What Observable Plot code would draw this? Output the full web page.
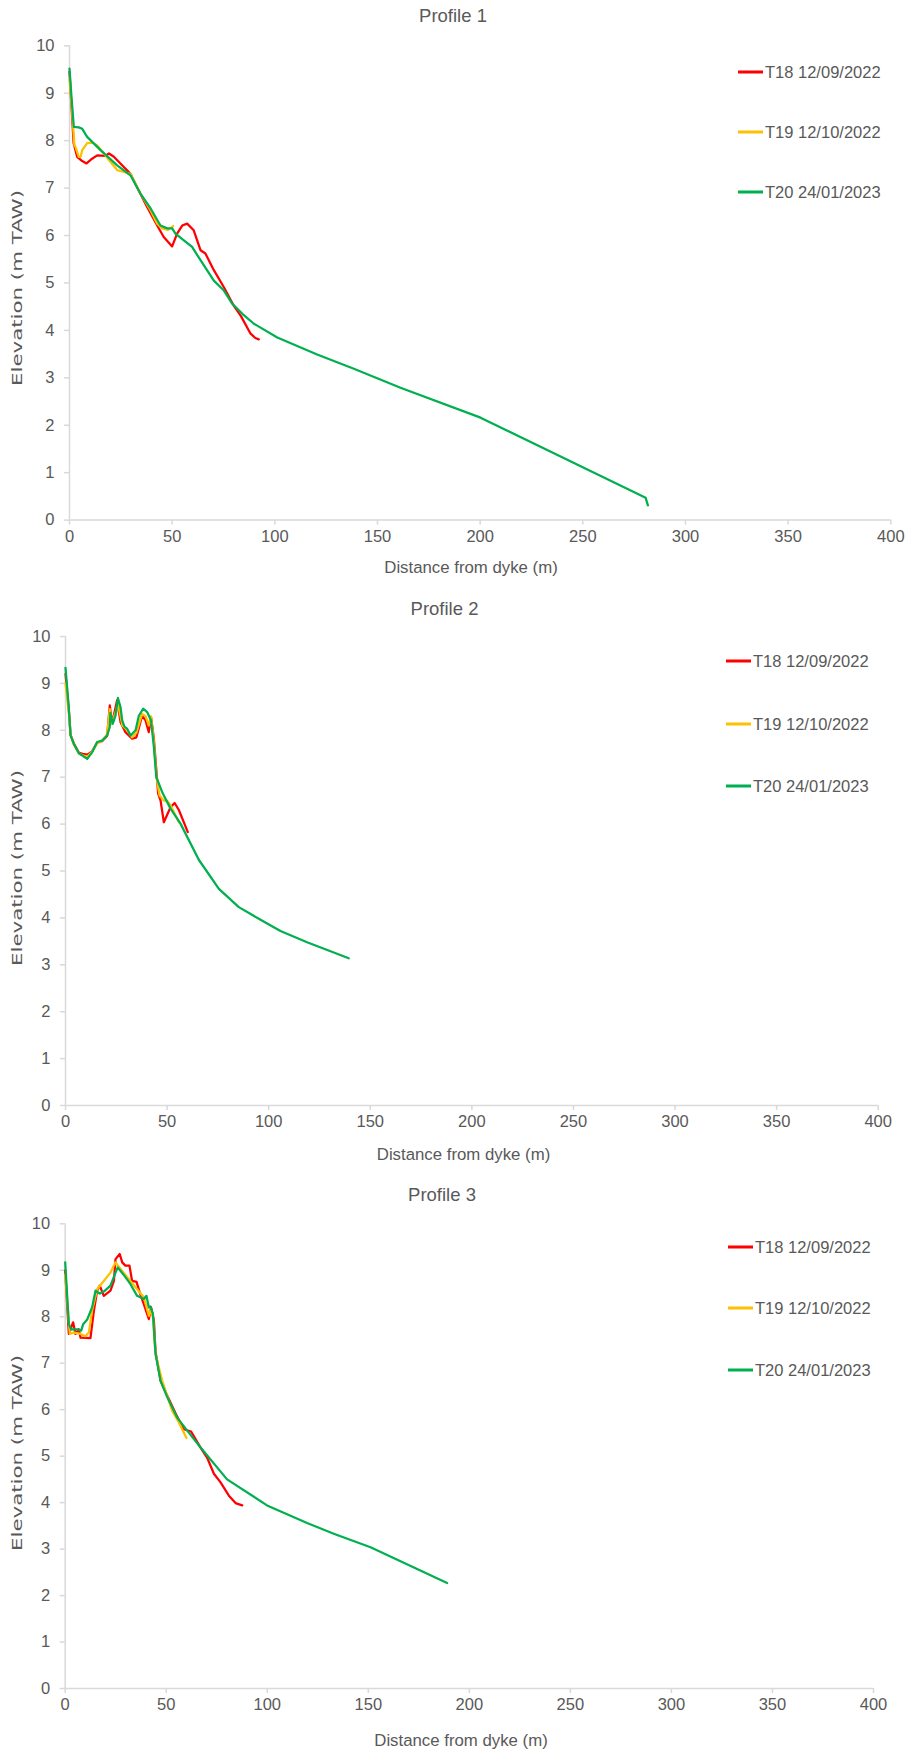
<!DOCTYPE html>
<html>
<head>
<meta charset="utf-8">
<script src="https://cdn.jsdelivr.net/npm/d3@7"></script>
<script src="https://cdn.jsdelivr.net/npm/@observablehq/plot@0.6"></script>
<style>
  body { margin: 0; background: #fff; }
  .panel { position: relative; width: 909px; overflow: hidden; }
  .panel svg { position: absolute; left: 0; top: 0; }
  .lbl { position: absolute; white-space: nowrap; color: #595959;
         font-family: "Liberation Sans", Arial, sans-serif; line-height: 1; }
  .legend { position: absolute; font-family: "Liberation Sans", Arial, sans-serif;
            font-size: 16.5px; color: #595959; }
  .legend .row { position: absolute; left: 0; display: flex; align-items: center;
                 transform: translateY(-50%); white-space: nowrap; }
  .legend .swatch { width: 25px; height: 2.4px; margin-right: 2px; }
  g[aria-label="x-axis tick"], g[aria-label="y-axis tick"] { stroke: #d9d9d9; stroke-width: 1.5px; }
</style>
</head>
<body>
<div id="chart"></div>
<script>
// Survey names, dates and colours
const surveys = ["T18 12/09/2022", "T19 12/10/2022", "T20 24/01/2023"];
const colors  = ["#FF0000", "#FFC000", "#00B050"];

// Axis ticks
const xTicks = [0, 50, 100, 150, 200, 250, 300, 350, 400];
const yTicks = [0, 1, 2, 3, 4, 5, 6, 7, 8, 9, 10];

// Profile 1: [distance from dyke (m), elevation (m TAW)]
const p1T18 = [[0,9.45],[1,8.7],[2,7.95],[3.7,7.66],[6.2,7.57],[8.3,7.52],[11,7.62],[13.5,7.69],[17.5,7.68],
  [19.2,7.73],[21.6,7.66],[24.8,7.52],[29.7,7.3],[32.9,7.02],[37.8,6.6],[42.7,6.21],[45.9,5.97],[50,5.77],
  [52.4,6.04],[54.9,6.21],[57.3,6.25],[60.5,6.11],[63.8,5.69],[66.2,5.62],[70.3,5.27],[75.2,4.91],[80,4.52],
  [83.5,4.3],[88.2,3.93],[90.5,3.84],[92.2,3.81]];
const p1T19 = [[0,9.3],[1.3,8.6],[2.4,7.9],[2.9,7.87],[4.5,7.66],[5.4,7.66],[6.2,7.8],[8.6,7.95],[11,7.96],
  [13.5,7.9],[16.8,7.73],[20,7.55],[23.2,7.38],[26.5,7.34],[29.7,7.3],[34.6,6.88],[39.5,6.53],[42.7,6.25],
  [45.1,6.15],[48,6.12],[50.5,6.2]];
const p1T20 = [[0,9.52],[1,8.9],[2.1,8.29],[4.5,8.28],[6.2,8.25],[8.6,8.08],[15.1,7.8],[23.2,7.48],[29.7,7.27],
  [34.6,6.88],[39.5,6.57],[44.3,6.21],[47.6,6.15],[50,6.15],[51.6,6.04],[55.7,5.9],[59.7,5.76],[63.8,5.48],
  [70.3,5.05],[75.2,4.84],[79.3,4.56],[84.9,4.32],[89.8,4.14],[91.4,4.1],[101.2,3.85],[120.6,3.49],
  [138.5,3.19],[161.2,2.79],[200.2,2.16],[280.6,0.47],[281.7,0.31]];

// Profile 2
const p2T18 = [[0,9.2],[1.6,8.45],[2.5,7.9],[4.1,7.72],[6.6,7.52],[8.5,7.5],[10.7,7.48],[13.1,7.55],[15.6,7.74],
  [18,7.77],[20.5,7.88],[21.8,8.53],[22.9,8.14],[25.4,8.64],[27.1,8.17],[29.5,7.96],[32.8,7.82],[34.9,7.85],
  [37.7,8.31],[39.4,8.21],[41,7.96],[42.1,8.28],[43.5,7.82],[44.8,7.1],[45.6,6.65],[46.8,6.5],[48.4,6.04],
  [51.7,6.36],[53.7,6.45],[55.8,6.3],[60.2,5.83]];
const p2T19 = [[0,9.0],[1.6,8.4],[2.5,7.9],[4.1,7.7],[6.6,7.5],[10.7,7.43],[13.1,7.55],[15.6,7.72],[18,7.77],
  [20.5,7.92],[21.8,8.45],[22.9,8.15],[25.8,8.55],[27.1,8.3],[28,8.1],[30.4,8.0],[32.8,7.85],[34.9,7.95],
  [37.7,8.35],[39.4,8.3],[41,8.1],[42.1,8.3],[43.5,7.75],[44.8,7.0],[46.3,6.61],[48.4,6.5],[50,6.5],
  [51.7,6.4],[55.8,6.04]];
const p2T20 = [[0,9.33],[1.6,8.49],[2.5,7.89],[4.1,7.71],[6.6,7.51],[10.7,7.39],[13.1,7.53],[15.6,7.75],[18,7.78],
  [20.5,7.89],[21.8,8.07],[22.1,8.37],[23.3,8.14],[24.6,8.31],[25.8,8.69],[27.1,8.49],[27.9,8.21],[29,8.08],
  [30.4,8.03],[32,7.89],[34.5,8.0],[36.1,8.31],[38.2,8.46],[40.2,8.39],[42.1,8.21],[43.5,7.64],[44.7,7.0],
  [47.6,6.68],[51.7,6.33],[56.6,6.01],[65.6,5.24],[75.5,4.62],[85.3,4.23],[96,3.96],[105.8,3.72],
  [118.9,3.48],[139.4,3.14]];

// Profile 3
const p3T18 = [[0,9.0],[1.8,7.63],[3.9,7.88],[5.1,7.63],[6.7,7.73],[7.6,7.55],[12.5,7.54],[14.2,8.13],[15.8,8.56],
  [17.1,8.67],[19.1,8.45],[22.4,8.56],[24.1,8.77],[24.9,9.24],[27,9.35],[28.2,9.17],[29.8,9.1],[31.8,9.1],
  [33.1,8.77],[35.3,8.75],[36.9,8.52],[38.9,8.27],[41.4,7.95],[42.5,8.2],[43.9,7.92],[44.7,7.25],[47.2,6.62],
  [50.5,6.3],[55.4,5.85],[58.7,5.58],[62.3,5.53],[66.9,5.19],[70.2,4.97],[73.6,4.62],[76.8,4.44],[81,4.15],
  [84.3,3.99],[87.6,3.94]];
const p3T19 = [[0,8.9],[2.3,7.63],[4.3,7.66],[7.6,7.63],[10,7.58],[11.7,7.66],[13.3,8.13],[15.8,8.59],[19.1,8.77],
  [22.4,8.95],[24.9,9.17],[27.4,9.03],[30.7,8.85],[35.6,8.59],[38.9,8.42],[41.4,8.02],[42.2,8.13],[43.4,8.0],
  [44.7,7.2],[48,6.62],[52.9,5.98],[56.2,5.73],[60,5.39]];
const p3T20 = [[0,9.17],[1.8,7.84],[2.9,7.73],[5.9,7.73],[7.9,7.7],[8.9,7.84],[10.9,7.94],[13.3,8.2],[15,8.56],
  [17.1,8.5],[19.4,8.55],[22.4,8.67],[24.9,8.95],[26,9.06],[29,8.9],[32.3,8.7],[35.6,8.45],[38.9,8.38],
  [40.2,8.45],[41.4,8.2],[42.2,8.22],[43.4,8.06],[44.7,7.2],[47.2,6.62],[50.5,6.27],[55.4,5.83],[60.4,5.55],
  [66.9,5.19],[80.1,4.5],[99.9,3.94],[119.7,3.56],[132.9,3.33],[151.1,3.04],[189,2.27]];

// Panel geometry (pixels)
const panels = [
  { title: "Profile 1", series: [p1T18, p1T19, p1T20], h: 591, mt: 45.3, mb: 71.4, ml: 69, mr: 18.7,
    titleX: 453, titleY: 16, xtX: 471, xtY: 568, ytX: 17, ytY: 288, legX: 738, legY: [72, 132, 192] },
  { title: "Profile 2", series: [p2T18, p2T19, p2T20], h: 587, mt: 45, mb: 73, ml: 65, mr: 31.3,
    titleX: 444.5, titleY: 18, xtX: 463.5, xtY: 564, ytX: 17, ytY: 277, legX: 726, legY: [70, 133, 195] },
  { title: "Profile 3", series: [p3T18, p3T19, p3T20], h: 573, mt: 45.3, mb: 63, ml: 64.7, mr: 36,
    titleX: 442, titleY: 17, xtX: 461, xtY: 563, ytX: 17, ytY: 275, legX: 728, legY: [69, 130, 192] }
];

const root = document.getElementById("chart");

for (const p of panels) {
  const div = document.createElement("div");
  div.className = "panel";
  div.style.height = p.h + "px";

  const svg = Plot.plot({
    width: 909,
    height: p.h,
    marginTop: p.mt,
    marginBottom: p.mb,
    marginLeft: p.ml,
    marginRight: p.mr,
    style: { fontFamily: '"Liberation Sans", Arial, sans-serif', fontSize: "16.5px", color: "#595959", background: "transparent", overflow: "visible" },
    x: { domain: [0, 400] },
    y: { domain: [0, 10] },
    marks: [
      Plot.ruleY([0], { stroke: "#D9D9D9", strokeWidth: 1.5 }),
      Plot.ruleX([0], { stroke: "#D9D9D9", strokeWidth: 1.5 }),
      Plot.axisX({ ticks: xTicks, tickSize: 5, tickPadding: 5, label: null }),
      Plot.axisY({ ticks: yTicks, tickSize: 5, tickPadding: 10, label: null }),
      ...p.series.map((s, i) => Plot.line(s, { x: d => d[0], y: d => d[1], stroke: colors[i], strokeWidth: 2.25 }))
    ]
  });
  div.appendChild(svg);

  // Y axis title, stretched along its length
  d3.select(svg).append("text")
    .attr("transform", `translate(${p.ytX},${p.ytY}) rotate(-90)`)
    .attr("text-anchor", "middle")
    .attr("dominant-baseline", "central")
    .attr("font-family", '"DejaVu Sans", Verdana, sans-serif')
    .attr("font-size", 14.5)
    .attr("fill", "#595959")
    .attr("textLength", 196)
    .attr("lengthAdjust", "spacingAndGlyphs")
    .text("Elevation (m TAW)");

  // Chart title
  const t = document.createElement("div");
  t.className = "lbl";
  t.textContent = p.title;
  Object.assign(t.style, { left: p.titleX + "px", top: p.titleY + "px", fontSize: "18.5px", transform: "translate(-50%,-50%)" });
  div.appendChild(t);

  // X axis title
  const xt = document.createElement("div");
  xt.className = "lbl";
  xt.textContent = "Distance from dyke (m)";
  Object.assign(xt.style, { left: p.xtX + "px", top: p.xtY + "px", fontSize: "16.8px", transform: "translate(-50%,-50%)" });
  div.appendChild(xt);

  // Legend
  const leg = document.createElement("div");
  leg.className = "legend";
  Object.assign(leg.style, { left: p.legX + "px", top: "0px" });
  surveys.forEach((name, i) => {
    const row = document.createElement("div");
    row.className = "row";
    row.style.top = p.legY[i] + "px";
    const sw = document.createElement("span");
    sw.className = "swatch";
    sw.style.background = colors[i];
    const tx = document.createElement("span");
    tx.textContent = name;
    row.appendChild(sw);
    row.appendChild(tx);
    leg.appendChild(row);
  });
  div.appendChild(leg);

  root.appendChild(div);
}
</script>
</body>
</html>
